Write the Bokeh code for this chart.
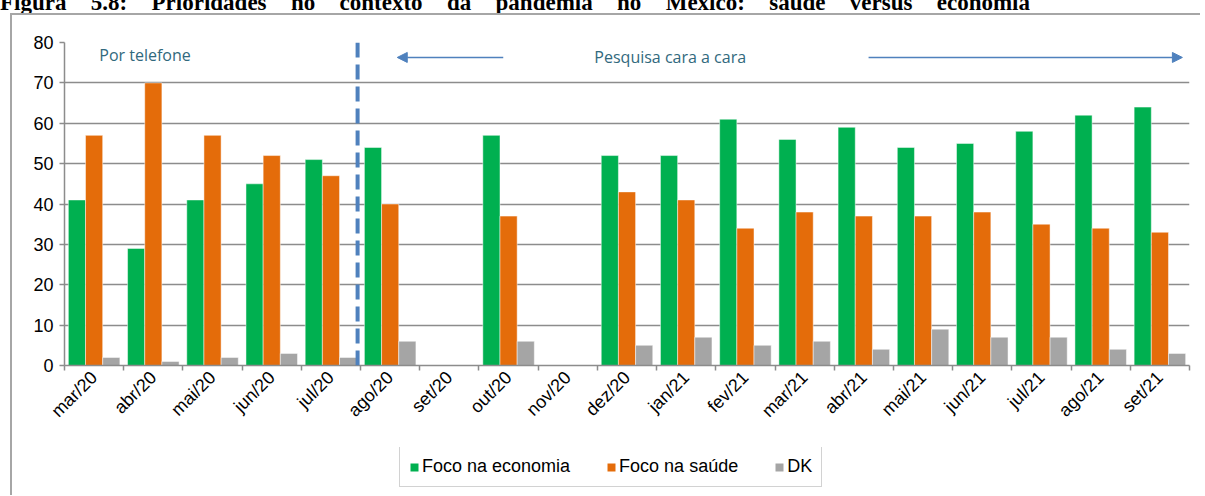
import math
import numpy as np
from bokeh.plotting import figure
from bokeh.models import (ColumnDataSource, FactorRange, Range1d, LinearAxis, CategoricalAxis,
                          FixedTicker, Grid, Span, Arrow, NormalHead, Label, Legend, LegendItem, Div)
from bokeh.layouts import column
from bokeh.transform import dodge
from bokeh.embed import file_html
from bokeh.resources import INLINE

# ---------------- data ----------------
months = ["mar/20", "abr/20", "mai/20", "jun/20", "jul/20", "ago/20", "set/20", "out/20", "nov/20",
          "dez/20", "jan/21", "fev/21", "mar/21", "abr/21", "mai/21", "jun/21", "jul/21", "ago/21",
          "set/21"]
nan = float("nan")
economia = [41, 29, 41, 45, 51, 54, nan, 57, nan, 52, 52, 61, 56, 59, 54, 55, 58, 62, 64]
saude = [57, 70, 57, 52, 47, 40, nan, 37, nan, 43, 41, 34, 38, 37, 37, 38, 35, 34, 33]
dk = [2, 1, 2, 3, 2, 6, nan, 6, nan, 5, 7, 5, 6, 4, 9, 7, 7, 4, 3]
series_keys = ["economia", "saude", "dk"]
series_names = ["Foco na economia", "Foco na saúde", "DK"]
y_ticks = [0, 10, 20, 30, 40, 50, 60, 70, 80]
title_text = "Figura 5.8: Prioridades no contexto da pandemia no México: saúde versus economia"
phone_label = "Por telefone"
face_label = "Pesquisa cara a cara"

# ---------------- styling ----------------
colors = ["#00B050", "#E46C0A", "#A5A5A5"]
offsets = [-0.29, 0.0, 0.29]
bar_w = 0.29
grid_col = "#8C8C8C"
blue = "#4F81BD"
teal = "#31697D"
font = "Liberation Sans"
left_line = "inset 10px 0 0 0 #ffffff, inset 12px 0 0 0 #A6A6A6"

src = ColumnDataSource(dict(
    month=months,
    economia=np.array(economia, dtype=float),
    saude=np.array(saude, dtype=float),
    dk=np.array(dk, dtype=float),
))

# ---------------- main chart ----------------
p = figure(x_range=FactorRange(*months), y_range=Range1d(0, 80),
           width=1200, height=434, output_backend="svg", toolbar_location=None,
           x_axis_location=None, y_axis_location=None,
           min_border_left=64, min_border_right=11, min_border_top=29, min_border_bottom=82)
p.xgrid.visible = False
p.ygrid.visible = False
p.background_fill_color = None
p.border_fill_color = None
p.outline_line_color = None
p.styles = {"box-shadow": left_line + ", inset 0 2px 0 0 #A6A6A6"}

yaxis = LinearAxis(ticker=FixedTicker(ticks=y_ticks),
                   axis_line_color=grid_col, axis_line_width=1.5,
                   major_tick_line_color=grid_col, major_tick_line_width=1.5,
                   major_tick_in=0, major_tick_out=5, minor_tick_line_color=None,
                   major_label_text_font=font, major_label_text_font_size="18px",
                   major_label_text_color="#000000", major_label_standoff=6)
p.add_layout(yaxis, "left")
p.add_layout(Grid(dimension=1, ticker=FixedTicker(ticks=y_ticks),
                  grid_line_color=grid_col, grid_line_width=1.5))

# x axis: tick marks at category boundaries, then the category labels
tick_axis = LinearAxis(ticker=FixedTicker(ticks=list(range(len(months) + 1))),
                       axis_line_color=grid_col, axis_line_width=1.5,
                       major_tick_line_color=grid_col, major_tick_line_width=1.5,
                       major_tick_in=0, major_tick_out=5, minor_tick_line_color=None,
                       major_label_text_font_size="1px", major_label_text_color=None,
                       major_label_standoff=0)
p.add_layout(tick_axis, "below")
cat_axis = CategoricalAxis(axis_line_color=None, major_tick_line_color=None,
                           major_tick_in=0, major_tick_out=0,
                           major_label_orientation=math.pi / 4,
                           major_label_text_font=font, major_label_text_font_size="18px",
                           major_label_text_color="#000000", major_label_standoff=4)
p.add_layout(cat_axis, "below")

for key, col, off in zip(series_keys, colors, offsets):
    p.vbar(x=dodge("month", off, range=p.x_range), top=key, width=bar_w, source=src,
           fill_color=col, line_color="#ffffff", line_width=0.8, line_alpha=0.6)

p.add_layout(Span(location=4.95, dimension="height", line_color=blue, line_width=4,
                  line_dash="15 7"))
head = dict(size=10, fill_color=blue, line_color=blue)
p.add_layout(Arrow(x_start=7.41, y_start=76.3, x_end=5.62, y_end=76.3,
                   end=NormalHead(**head), line_color=blue, line_width=1.5))
p.add_layout(Arrow(x_start=13.58, y_start=76.3, x_end=18.88, y_end=76.3,
                   end=NormalHead(**head), line_color=blue, line_width=1.5))
p.add_layout(Label(x=1.36, y=77.0, text=phone_label, text_font="Open Sans",
                   text_font_size="16px", text_color=teal, text_align="center",
                   text_baseline="middle"))
p.add_layout(Label(x=10.23, y=76.3, text=face_label, text_font="Open Sans",
                   text_font_size="16px", text_color=teal, text_align="center",
                   text_baseline="middle"))

# ---------------- legend strip (same series, hidden, only the legend shows) ----------------
lf = figure(width=1200, height=48, output_backend="svg", toolbar_location=None,
            x_range=p.x_range, y_range=p.y_range,
            x_axis_location=None, y_axis_location=None, min_border=0)
lf.xgrid.visible = False
lf.ygrid.visible = False
lf.background_fill_color = None
lf.border_fill_color = None
lf.outline_line_color = None
lf.styles = {"box-shadow": left_line}
proxies = []
for key, col, off in zip(series_keys, colors, offsets):
    r = lf.vbar(x=dodge("month", off, range=lf.x_range), top=key, width=bar_w, source=src,
                fill_color=col, line_color=None, visible=False)
    proxies.append(r)
legend = Legend(items=[LegendItem(label=n, renderers=[r]) for n, r in zip(series_names, proxies)],
                orientation="horizontal", location=(335, 8),
                glyph_width=10, glyph_height=10, label_standoff=3, spacing=36, padding=9,
                margin=0, label_text_font=font, label_text_font_size="18px",
                label_text_color="#000000", border_line_color="#A6A6A6", border_line_width=1.5,
                background_fill_color="#ffffff", inactive_fill_alpha=0)
lf.add_layout(legend)

# ---------------- clipped caption above the chart ----------------
title_div = Div(
    text=('<div style="height:13px;overflow:hidden;margin:0;padding:0">'
          '<div style="font-family:\'Liberation Serif\';font-weight:bold;font-size:23px;'
          'line-height:23px;margin-top:-9px;width:1030px;text-align:justify;'
          'text-align-last:justify;color:#000">' + title_text + '</div></div>'),
    width=1200, height=13, margin=0, styles={"overflow": "hidden"})

layout = column(title_div, p, lf)
open("out.html", "w").write(file_html(layout, INLINE))
